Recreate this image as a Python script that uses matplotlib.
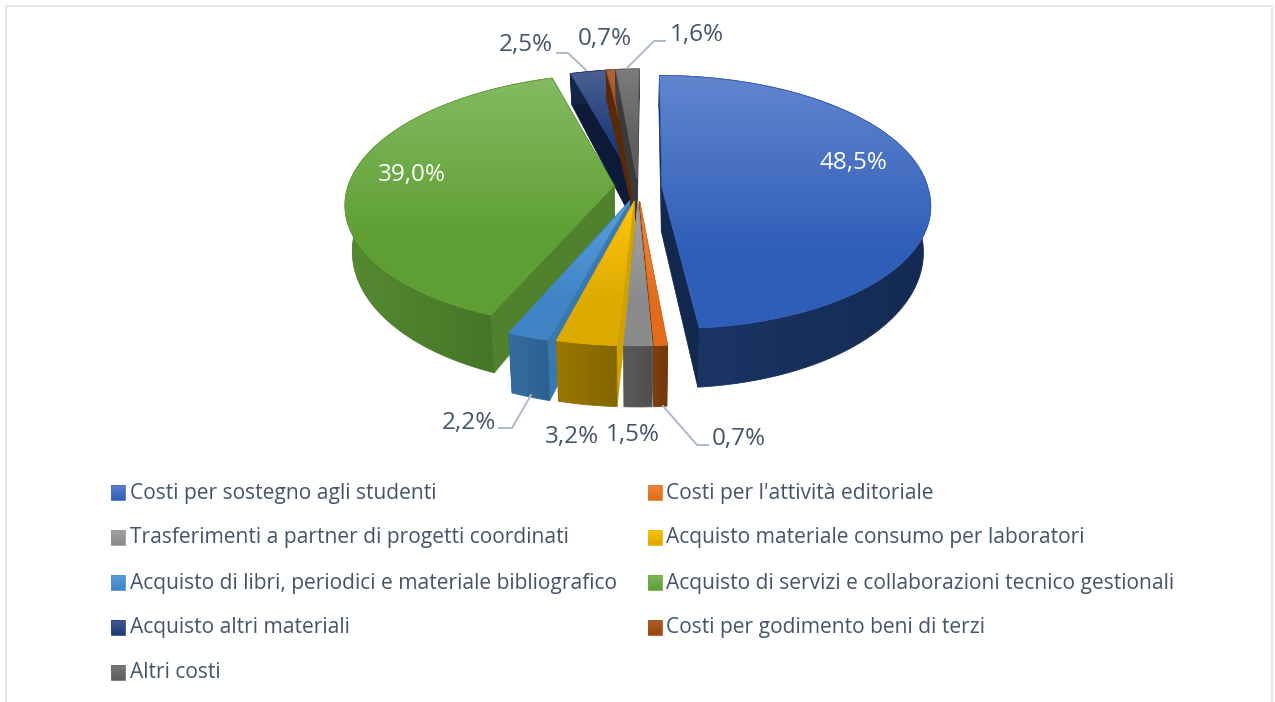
import numpy as np
import matplotlib
matplotlib.use("Agg")
import matplotlib.pyplot as plt
from matplotlib.patches import Polygon
from matplotlib.colors import LinearSegmentedColormap

categories = ["Costi per sostegno agli studenti", "Costi per l'attività editoriale",
              "Trasferimenti a partner di progetti coordinati", "Acquisto materiale consumo per laboratori",
              "Acquisto di libri, periodici e materiale bibliografico",
              "Acquisto di servizi e collaborazioni tecnico gestionali",
              "Acquisto altri materiali", "Costi per godimento beni di terzi", "Altri costi"]
values = [48.5, 0.7, 1.5, 3.2, 2.2, 39.0, 2.5, 0.7, 1.6]

# colori: faccia sopra (chiaro, scuro), parete esterna (chiaro, scuro), taglio
top_colors = [("#6285CE", "#2F5EB8"), ("#EE8A40", "#E26C1C"), ("#A6A6A6", "#8A8A8A"),
              ("#FFC60F", "#DDAA00"), ("#5B9FDA", "#3F85C6"), ("#84BA62", "#5E9E32"),
              ("#4A6090", "#1B3A76"), ("#B0633A", "#9A4609"), ("#7C7C7C", "#5E5E5E")]
wall_colors = [("#1B3768", "#142A52"), ("#80400F", "#70360A"), ("#5A5A5A", "#4E4E4E"),
               ("#9C7700", "#846600"), ("#346E9F", "#2C6192"), ("#558A32", "#3F6E22"),
               ("#16264A", "#101E3C"), ("#5E2B08", "#4E2406"), ("#444444", "#333333")]
cut_colors = ["#12284F", "#7A3A0C", "#B0A080", "#CFA200", "#3A78B0", "#50812C",
              "#0E1B38", "#5A2A08", "#3A3A3A"]

text_color = "#44546A"
line_color = "#ADB9CA"

# prospettiva del disco
cx, cy = 638, 190
rx, ry = 266, 125
persp = 0.115
explode = 0.09
# piccole correzioni per fetta, il 3D di Excel non e' una proiezione pulita
lean = [0.05, 0, 0, -0.02, -0.05, -0.065, -0.065, -0.04, -0.02]
lift = [-2, 0, 0, 0, 0, -4, 0, 0, 0]

fig = plt.figure(figsize=(12.75, 7.02), dpi=100)
ax = fig.add_axes([0, 0, 1, 1])
ax.set_xlim(0, 1275)
ax.set_ylim(702, 0)
ax.axis("off")
plt.rcParams["font.family"] = ["Open Sans", "DejaVu Sans"]


def project(i, u, v, low=False):
    s = 1 / (1 + persp * v)
    x, y = cx + rx * u * s, cy - ry * v * s
    dy = y - cy
    if lean[i] > 0:
        dy = max(dy, 0)
    x = x + lean[i] * dy
    y = y + lift[i]
    if low:
        # il disco sotto e' un po' piu stretto e dietro si vede meno spessore
        x = cx + (x - cx) * 0.975
        y = y + 31 + (y - 69) * 0.109
    return x, y


def fill_grad(pts, c1, c2, horizontal=False, z=2, flat_end=False):
    pts = np.array(pts)
    stops = [(0, c1), (0.7, c2), (1, c2)] if flat_end else [c1, c2]
    cmap = LinearSegmentedColormap.from_list("g", stops)
    grad = np.linspace(0, 1, 64)
    grad = grad.reshape(1, -1) if horizontal else grad.reshape(-1, 1)
    x0, x1 = pts[:, 0].min(), pts[:, 0].max()
    y0, y1 = pts[:, 1].min(), pts[:, 1].max()
    im = ax.imshow(grad, cmap=cmap, extent=(x0 - 1, x1 + 1, y1 + 1, y0 - 1), aspect="auto", zorder=z,
                   interpolation="bilinear")
    im.set_clip_path(Polygon(pts, closed=True, transform=ax.transData))
    ax.add_patch(Polygon(pts, closed=True, fill=False, edgecolor=cmap(0.6), lw=0.6, zorder=z))


def draw_slice(i, a0, a1, z):
    mid = (a0 + a1) / 2
    du, dv = explode * np.sin(mid), explode * np.cos(mid)
    angs = np.linspace(a0, a1, max(int((a1 - a0) * 60), 4))
    us = du + np.sin(angs)
    vs = dv + np.cos(angs)
    outer = [project(i, u, v) for u, v in zip(us, vs)]
    outer_low = [project(i, u, v, True) for u, v in zip(us, vs)]
    apex = project(i, du, dv)
    apex_low = project(i, du, dv, True)
    # tagli radiali
    for k in (0, -1):
        ax.add_patch(Polygon([apex, outer[k], outer_low[k], apex_low], closed=True,
                             facecolor=cut_colors[i], edgecolor=cut_colors[i], lw=0.5, zorder=z))
    # parete esterna
    fill_grad(outer + outer_low[::-1], wall_colors[i][0], wall_colors[i][1], horizontal=True, z=z + 0.1)
    # sopra
    fill_grad([apex] + outer, top_colors[i][0], top_colors[i][1], z=z + 0.2, flat_end=True)


fractions = np.array(values) / sum(values)
edges = np.concatenate([[0], np.cumsum(fractions)]) * 2 * np.pi
# ordine: prima quelli dietro, poi i laterali, poi quelli davanti
order = [6, 7, 8, 5, 0, 4, 1, 3, 2]
for z, i in enumerate(order):
    draw_slice(i, edges[i], edges[i + 1], 2 + z)


def pct(v):
    return f"{v:.1f}%".replace(".", ",")


label_pos = {0: (853, 162.5), 1: (739, 439.5), 2: (633, 435.5), 3: (572, 437.5), 4: (469, 423.5),
             5: (412, 174.5), 6: (526, 45.5), 7: (605, 38.5), 8: (697, 34.5)}
for i, (x, y) in label_pos.items():
    ax.text(x, y, pct(values[i]), ha="center", va="center", fontsize=17.5,
            color="white" if i in (0, 5) else text_color, zorder=30)

# linee guida
leaders = [([663, 697, 708], [406, 445, 445]), ([531, 512, 499], [395, 428, 428]),
           ([586, 568, 557], [70, 53, 53]), ([627, 654, 665], [68, 41, 41])]
for xs, ys in leaders:
    ax.plot(xs, ys, color=line_color, lw=1.4, zorder=29)

# legenda
col_x = [111, 648]
row_y = [492, 537, 582, 627, 672]
for i, name in enumerate(categories):
    x = col_x[i % 2]
    y = row_y[i // 2]
    fill_grad([(x, y - 7.5), (x + 14, y - 7.5), (x + 14, y + 7.5), (x, y + 7.5)], top_colors[i][0], top_colors[i][1], z=5)
    ax.text(x + 18.5, y + 1, name, ha="left", va="center", fontsize=15.1, color=text_color, zorder=30)

# cornice, aperta in basso
ax.plot([6, 6, 1272, 1272], [702, 6, 6, 702], color="#E4E8EE", lw=1.4, zorder=1)

ax.set_xlim(0, 1275)
ax.set_ylim(702, 0)
fig.savefig("out.png", dpi=100)
